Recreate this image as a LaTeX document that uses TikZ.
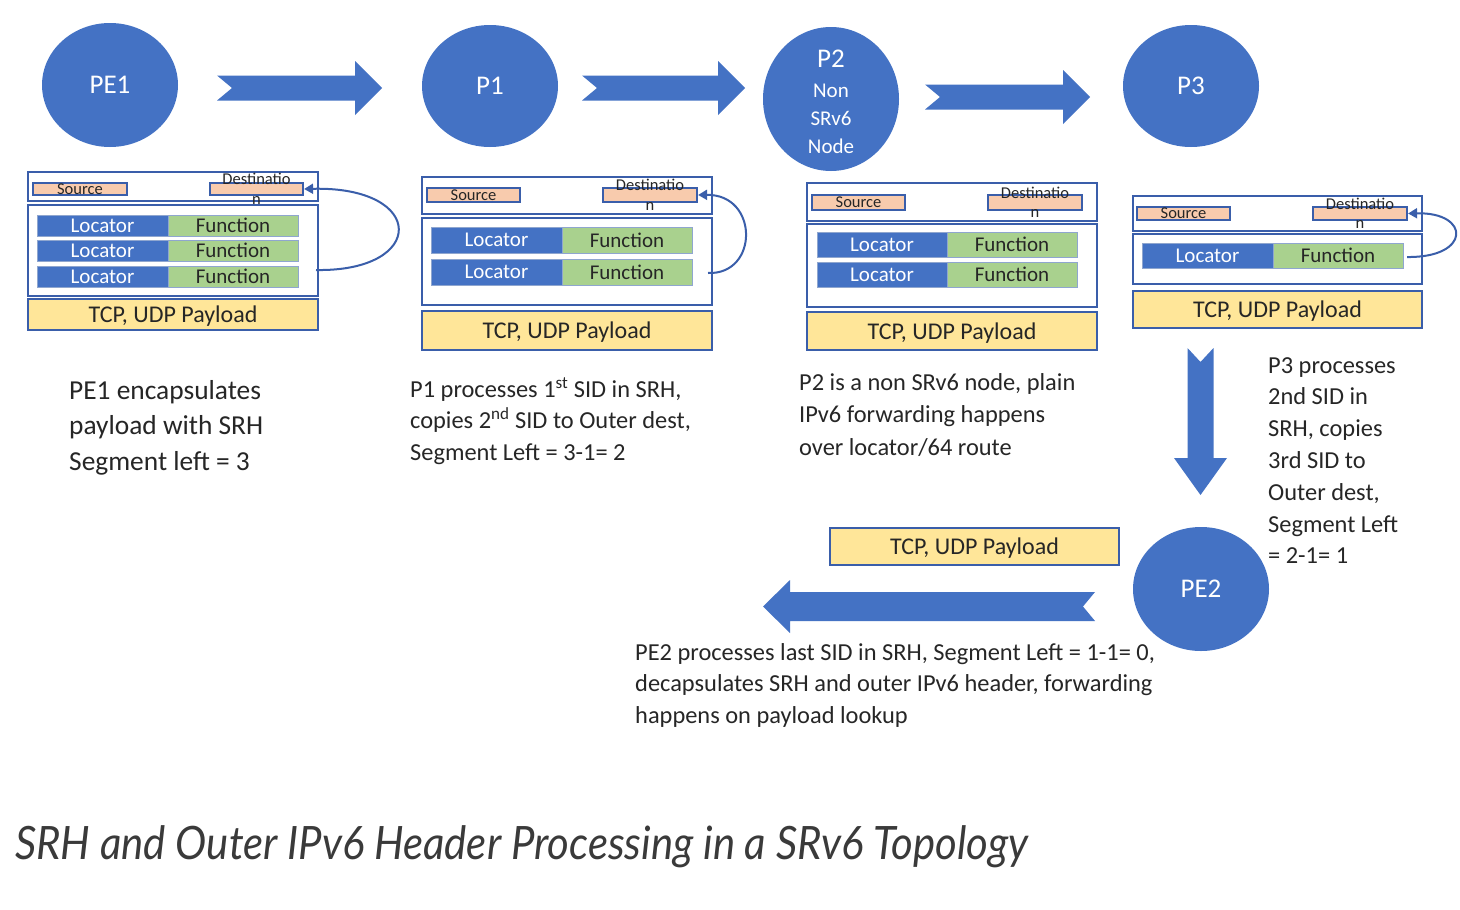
\documentclass[tikz,border=0pt]{standalone}
\usepackage{fontspec}
\setmainfont{Carlito}
\newfontfamily\capfont{Lato}
\usetikzlibrary{arrows.meta,shapes.geometric}
\definecolor{obl}{HTML}{4472C4}
\definecolor{bdr}{HTML}{3A5EAA}
\definecolor{cellb}{HTML}{8FA6CF}
\definecolor{grn}{HTML}{A9D18E}
\definecolor{peach}{HTML}{F8CBAD}
\definecolor{yel}{HTML}{FFE699}
\definecolor{txt}{HTML}{262626}
\definecolor{captxt}{HTML}{3A3A3A}
\newcommand\bx[7]{\node[#6, minimum width={(#4-#2)*1pt}, minimum height={(#5-#3)*1pt}] (#1) at ({(#2+#4)/2},{(#3+#5)/2}) {#7};}
\newcommand\rarr[3]{\fill[blockarrow] (#1,#3-12.5) -- ({#2-27},#3-12.5) -- ({#2-27},#3-27) -- (#2,#3) -- ({#2-27},#3+27) -- ({#2-27},#3+12.5) -- (#1,#3+12.5) -- ({#1+15},#3) -- cycle;}
\tikzset{
 hdr/.style={draw=bdr, line width=2.6pt, inner sep=0pt},
 lbl/.style={draw=bdr, line width=2.2pt, fill=peach, inner sep=0pt},
 lbltxt/.style={inner sep=0pt, text=txt, font=\fontsize{16.5}{19.5}\selectfont, align=center},
 loc/.style={fill=obl, draw=cellb, line width=0.8pt, text=white, font=\fontsize{21}{24}\selectfont, inner sep=0pt},
 fun/.style={fill=grn, draw=cellb, line width=0.8pt, text=txt, font=\fontsize{21}{24}\selectfont, inner sep=0pt},
 pay/.style={hdr, fill=yel, text=txt, font=\fontsize{24}{28}\selectfont, text depth=0pt},
 nodecirc/.style={ellipse, fill=obl, draw=none, text=white, font=\fontsize{27}{30}\selectfont, inner sep=0pt},
 blockarrow/.style={fill=obl, draw=none},
 bendarrow/.style={draw=bdr, line width=2pt, -{Triangle[length=9pt,width=10pt]}},
 desc/.style={anchor=north west, align=left, inner sep=0pt, text=txt}
}
\begin{document}
\begin{tikzpicture}[x=1pt,y=-1pt]
\useasboundingbox[fill=white] (0,0) rectangle (1460,910);

% router nodes
\node[nodecirc, minimum width=136pt, minimum height=124pt] (pe1) at (110,85) {PE1};
\node[nodecirc, minimum width=136pt, minimum height=122pt] (p1) at (490,86) {P1};
\node[nodecirc, minimum width=136pt, minimum height=144pt] (p2) at (831,99) {};
\node[text=white, inner sep=0pt, font=\fontsize{27}{30}\selectfont] (p2t) at (831,59) {P2};
\node[text=white, align=center, inner sep=0pt, font=\fontsize{21}{28}\selectfont] (p2n) at (831,119) {Non\\SRv6\\Node};
\node[nodecirc, minimum width=136pt, minimum height=122pt] (p3) at (1191,86) {P3};
\node[nodecirc, minimum width=136pt, minimum height=124pt] (pe2) at (1201,589) {PE2};

% block arrows
\rarr{217}{382}{88}
\rarr{582}{745}{88}
\rarr{925}{1090}{97}
\fill[blockarrow] (1187.5,348) -- (1200.5,362) -- (1213.5,348) -- (1213.5,458) -- (1227,458) -- (1200.5,495) -- (1174,458) -- (1187.5,458) -- cycle;
\fill[blockarrow] (1095,592) -- (1083,606.5) -- (1095,621) -- (790,621) -- (790,633) -- (763,606.5) -- (790,580) -- (790,592) -- cycle;

% ---------- PE1 packet
\bx{a0}{28}{172}{318}{201}{hdr}{}
\bx{a1}{28}{205}{318}{296}{hdr}{}
\bx{a2}{28}{299}{318}{330}{pay}{TCP, UDP Payload}
\bx{as}{33}{183}{127}{195}{lbl}{}
\node[lbltxt] (ast) at (as) {Source};
\bx{ad}{210}{183}{303}{195}{lbl}{}
\node[lbltxt] (adt) at (ad) {Destinatio\\n};
\bx{al1}{37}{215}{168}{236}{loc}{Locator}
\bx{af1}{168}{215}{298}{236}{fun}{Function}
\bx{al2}{37}{240}{168}{261}{loc}{Locator}
\bx{af2}{168}{240}{298}{261}{fun}{Function}
\bx{al3}{37}{266}{168}{287}{loc}{Locator}
\bx{af3}{168}{266}{298}{287}{fun}{Function}
\coordinate (acs) at (316,270);
\draw[bendarrow] (acs) .. controls (427,272) and (427,186) .. (ad.east);

% ---------- P1 packet
\bx{b0}{422}{177}{712}{214}{hdr}{}
\bx{b1}{422}{218}{712}{305}{hdr}{}
\bx{b2}{422}{311}{712}{350}{pay}{TCP, UDP Payload}
\bx{bs}{427}{188}{520}{202}{lbl}{}
\node[lbltxt] (bst) at (bs) {Source};
\bx{bd}{603}{188}{697}{202}{lbl}{}
\node[lbltxt] (bdt) at (bd) {Destinatio\\n};
\bx{bl1}{431}{227}{562}{253}{loc}{Locator}
\bx{bf1}{562}{227}{692}{253}{fun}{Function}
\bx{bl2}{431}{259}{562}{285}{loc}{Locator}
\bx{bf2}{562}{259}{692}{285}{fun}{Function}
\coordinate (bcs) at (708,273);
\draw[bendarrow] (bcs) .. controls (759,275) and (759,194) .. (bd.east);

% ---------- P2 packet
\bx{c0}{807}{183}{1097}{221}{hdr}{}
\bx{c1}{807}{224}{1097}{307}{hdr}{}
\bx{c2}{807}{312}{1097}{350}{pay}{TCP, UDP Payload}
\bx{cs}{812}{195}{905}{210}{lbl}{}
\node[lbltxt] (cst) at (cs) {Source};
\bx{cd}{988}{195}{1082}{210}{lbl}{}
\node[lbltxt] (cdt) at (cd) {Destinatio\\n};
\bx{cl1}{817}{232}{947}{257}{loc}{Locator}
\bx{cf1}{947}{232}{1077}{257}{fun}{Function}
\bx{cl2}{817}{262}{947}{287}{loc}{Locator}
\bx{cf2}{947}{262}{1077}{287}{fun}{Function}

% ---------- P3 packet
\bx{d0}{1133}{196}{1422}{231}{hdr}{}
\bx{d1}{1133}{234}{1422}{284}{hdr}{}
\bx{d2}{1133}{291}{1422}{328}{pay}{TCP, UDP Payload}
\bx{ds}{1137}{207}{1230}{220}{lbl}{}
\node[lbltxt] (dst) at (ds) {Source};
\bx{dd}{1313}{207}{1407}{220}{lbl}{}
\node[lbltxt] (ddt) at (dd) {Destinatio\\n};
\bx{dl1}{1142}{243}{1273}{268}{loc}{Locator}
\bx{df1}{1273}{243}{1403}{268}{fun}{Function}
\coordinate (dcs) at (1407,257);
\draw[bendarrow] (dcs) .. controls (1471,258) and (1471,212) .. (dd.east);

% ---------- PE2 payload
\bx{e2}{830}{528}{1119}{565}{pay}{TCP, UDP Payload}

% ---------- descriptions
\node[desc, font=\fontsize{27.4}{35.5}\selectfont] (t1) at (69,380) {PE1 encapsulates\\payload with SRH\\Segment left = 3};
\node[desc, font=\fontsize{24.4}{31.5}\selectfont] (t2) at (410,377) {P1 processes 1\textsuperscript{st} SID in SRH,\\copies 2\textsuperscript{nd} SID to Outer dest,\\Segment Left = 3-1= 2};
\node[desc, font=\fontsize{24.4}{32.5}\selectfont] (t3) at (799,373) {P2 is a non SRv6 node, plain\\IPv6 forwarding happens\\over locator/64 route};
\node[desc, font=\fontsize{24.4}{31.8}\selectfont] (t4) at (1268,357) {P3 processes\\2nd SID in\\SRH, copies\\3rd SID to\\Outer dest,\\Segment Left\\= 2-1= 1};
\node[desc, font=\fontsize{24.4}{31.5}\selectfont] (t5) at (635,643) {PE2 processes last SID in SRH, Segment Left = 1-1= 0,\\decapsulates SRH and outer IPv6 header, forwarding\\happens on payload lookup};

% caption
\node[anchor=base west, inner sep=0pt, text=captxt] (cap) at (15,859) {\resizebox{1013pt}{\height}{\capfont\itshape\fontsize{46}{50}\selectfont SRH and Outer IPv6 Header Processing in a SRv6 Topology}};
\end{tikzpicture}
\end{document}
